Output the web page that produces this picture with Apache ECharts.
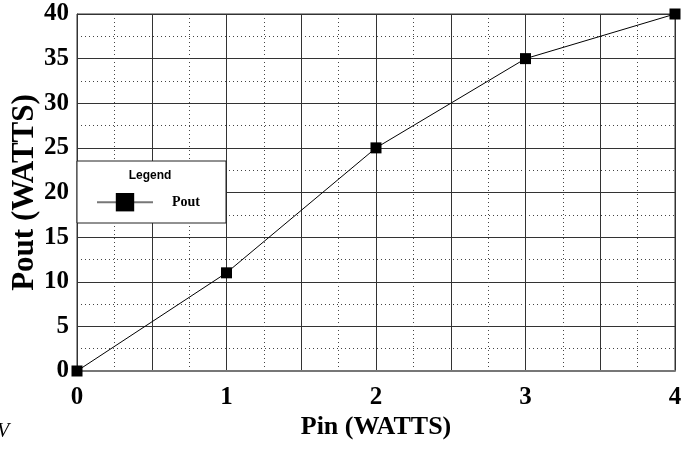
<!DOCTYPE html>
<html>
<head>
<meta charset="utf-8">
<script src="https://cdn.jsdelivr.net/npm/echarts@6/dist/echarts.min.js"></script>
<style>
  html, body { margin: 0; padding: 0; background: #fff; }
  #chart { width: 699px; height: 449px; }
</style>
</head>
<body>
<div id="chart"></div>
<script>
// data
const pinWatts = [0, 1, 2, 3, 4]
const poutWatts = [0, 11, 25, 35, 40]
const xTickLabels = ['0', '1', '2', '3', '4']
const yTickLabels = ['0', '5', '10', '15', '20', '25', '30', '35', '40']

const chart = echarts.init(document.getElementById('chart'))

const serifBold = {
  fontFamily: '"Liberation Serif", "Times New Roman", serif',
  fontWeight: 'bold',
  color: '#000'
}

const option = {
  animation: false,
  backgroundColor: '#fff',
  grid: {
    left: 77,
    right: 24,
    top: 14,
    bottom: 78,
    outerBoundsMode: 'none',
    containLabel: false,
    show: true,
    borderColor: '#333',
    borderWidth: 1
  },
  xAxis: {
    type: 'value',
    min: 0,
    max: 4,
    interval: 0.5,
    name: 'Pin (WATTS)',
    nameLocation: 'middle',
    nameGap: 43,
    nameMoveOverlap: false,
    nameTextStyle: { ...serifBold, fontSize: 26 },
    axisLine: { show: true, lineStyle: { color: '#777', width: 2 } },
    axisTick: { show: false },
    axisLabel: {
      ...serifBold,
      fontSize: 25,
      margin: 14,
      formatter: v => (Number.isInteger(v) ? xTickLabels[v] : '')
    },
    splitLine: { show: true, lineStyle: { color: '#333', width: 1 } },
    minorTick: { show: false, splitNumber: 2 },
    minorSplitLine: { show: true, lineStyle: { color: '#444', type: [1, 3], width: 1 } }
  },
  yAxis: {
    type: 'value',
    min: 0,
    max: 40,
    interval: 5,
    name: 'Pout (WATTS)',
    nameLocation: 'middle',
    nameGap: 37,
    nameMoveOverlap: false,
    nameTextStyle: { ...serifBold, fontSize: 31 },
    axisLine: { show: true, lineStyle: { color: '#333', width: 1 } },
    axisTick: { show: false },
    axisLabel: {
      ...serifBold,
      fontSize: 25,
      margin: 8,
      formatter: v => yTickLabels[v / 5]
    },
    splitLine: { show: true, lineStyle: { color: '#333', width: 1 } },
    minorTick: { show: false, splitNumber: 2 },
    minorSplitLine: { show: true, lineStyle: { color: '#444', type: [1, 3], width: 1 } }
  },
  legend: {
    z: 60,
    left: 96,
    top: 193,
    padding: 0,
    itemWidth: 56,
    itemHeight: 23,
    data: ['Pout'],
    lineStyle: { color: '#777', width: 2 },
    textStyle: {
      ...serifBold,
      fontSize: 14,
      padding: [0, 0, 0, 14]
    }
  },
  graphic: [
    {
      type: 'rect',
      z: 50,
      shape: { x: 77, y: 161, width: 149, height: 62 },
      style: { fill: '#fff', stroke: '#222', lineWidth: 1 }
    },
    {
      type: 'text',
      z: 51,
      x: 150,
      y: 176,
      style: {
        text: 'Legend',
        fontFamily: '"Liberation Sans", Arial, sans-serif',
        fontWeight: 'bold',
        fontSize: 12,
        fill: '#000',
        align: 'center',
        verticalAlign: 'middle'
      }
    },
    {
      type: 'text',
      x: -3,
      y: 422,
      style: {
        text: 'V',
        fontFamily: '"Liberation Serif", serif',
        fontStyle: 'italic',
        fontSize: 20,
        fill: '#000'
      }
    }
  ],
  series: [
    {
      name: 'Pout',
      type: 'line',
      data: pinWatts.map((x, i) => [x, poutWatts[i]]),
      symbol: 'rect',
      symbolSize: 11,
      clip: false,
      lineStyle: { color: '#000', width: 1 },
      itemStyle: { color: '#000' }
    }
  ]
}

chart.setOption(option)
</script>
</body>
</html>
